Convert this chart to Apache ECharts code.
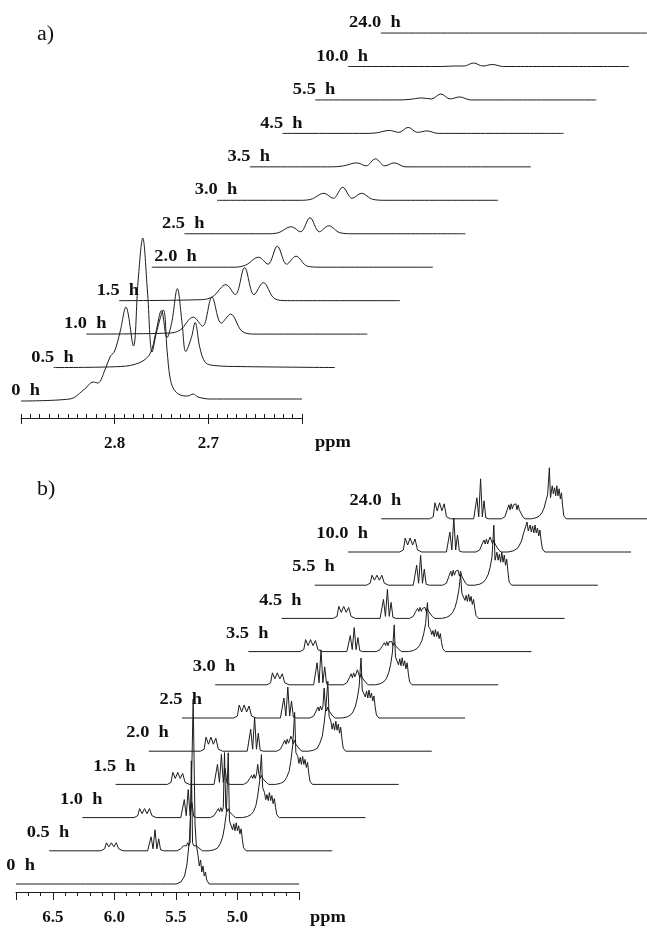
<!DOCTYPE html>
<html><head><meta charset="utf-8">
<script src="https://cdn.jsdelivr.net/npm/echarts@6/dist/echarts.min.js"></script>
<style>html,body{margin:0;padding:0;background:#fff}#c{width:647px;height:929px}</style>
</head><body><div id="c"></div>
<script>
// ================= DATA =================
const timeLabels = ['0 h','0.5 h','1.0 h','1.5 h','2.0 h','2.5 h','3.0 h','3.5 h','4.5 h','5.5 h','10.0 h','24.0 h'];

// ---- Panel a) 2.60 - 2.90 ppm ----
const ppmRangeA = [2.6, 2.9];
const tickLabelsA = ['2.8', '2.7'];
// individual traces for 0 h and 0.5 h  ([ppm, intensity])
const specA_0h = [[2.900,0],[2.848,2],[2.832,12],[2.823,19],[2.818,18],[2.810,32],[2.805,44],[2.800,50],[2.794,70],[2.788,94],[2.780,55],[2.775,120],[2.770,163],[2.765,110],[2.760,49],[2.755,70],[2.748,91],[2.744,50],[2.741,24],[2.737,12],[2.730,6],[2.722,5],[2.716,7],[2.711,4],[2.698,2],[2.600,2]];
const specA_05h = [[2.900,0],[2.829,1],[2.808,5],[2.797,14],[2.791,35],[2.785,57],[2.779,30],[2.774,45],[2.768,79],[2.763,45],[2.759,16],[2.753,30],[2.749,45],[2.744,20],[2.738,5],[2.728,2],[2.701,1],[2.600,0]];
// triplet traces share these ppm positions
const ppmA = [2.900, 2.812, 2.800, 2.786, 2.776, 2.766, 2.756, 2.746, 2.734, 2.720, 2.600];
const intA_1h  = [0, 1, 4, 17, 8, 37, 11, 20, 3, 0, 0];
const intA_15h = [0, 1, 4, 16, 6, 33, 6, 18, 2, 0, 0];
const intA_2h  = [0, 0, 2, 10, 3, 21, 3, 11, 1, 0, 0];
const intA_25h = [0, 0, 1, 7, 2, 16, 2, 8, 1, 0, 0];
const intA_3h  = [0, 0, 1, 7, 2, 13, 2, 7, 1, 0, 0];
const intA_35h = [0, 0, 1, 4, 1, 8, 1, 4, 0, 0, 0];
const intA_45h = [0, 0, 0.5, 3, 1, 6, 1, 2.5, 0, 0, 0];
const intA_55h = [0, 0, 0.5, 2, 1, 6, 1, 3, 0, 0, 0];
const intA_10h = [0, 0, 0, 0.5, 0.5, 3.5, 0.5, 2, 0, 0, 0];
const intA_24h = [0, 0, 0, 0, 0, 0, 0, 0, 0, 0, 0];

// ---- Panel b) 4.5 - 6.8 ppm ----
const ppmRangeB = [4.5, 6.8];
const tickLabelsB = ['6.5', '6.0', '5.5', '5.0'];
const ppmB = [6.80,6.38,6.35,6.335,6.315,6.295,6.275,6.255,6.235,6.20,
  6.00,5.985,5.972,5.956,5.94,5.925,5.91,5.895,5.87,
  5.76,5.73,5.71,5.695,5.685,5.675,5.665,5.655,5.645,5.635,5.625,5.615,5.605,5.59,5.575,5.555,
  5.50,5.46,5.43,5.41,5.39,5.375,5.36,5.345,5.335,5.32,5.31,5.30,5.29,5.28,5.27,5.26,5.25,5.24,5.23,5.22,5.20,4.50];
const intB_0h  = [0,0,0,0,0,0,0,0,0,0, 0,0,0,0,0,0,0,0,0, 0,0,0,0,0,0,0,0,0,0,0,0,0,0,0,0,
  0,2,8,20,45,90,185,60,40,28,18,24,12,18,8,12,4,2,0,0,0,0];
const intB_05h = [0,0,2,8,4,8,4,8,2,0, 0,1,14,2,21,2,12,1,0, 0,2,5,7,5,8,5,8,90,8,5,7,5,4,2,0,
  0,1,3,7,14,24,38,98,30,28,21,27,20,28,20,25,17,22,11,3,0,0];
const intB_1h  = [0,0,2,9,4,9,4,9,2,0, 0,1,18,2,28,2,15,1,0, 0,2,6,9,6,10,6,10,65,10,6,9,6,5,2,0,
  0,1,3,6,12,22,36,63,30,25,18,23,17,25,17,22,14,19,10,3,0,0];
const intB_15h = [0,0,2,12,6,12,6,11,2,0, 0,1,20,2,30,2,16,1,0, 0,2,6,9,6,10,6,10,20,10,6,9,6,5,2,0,
  0,1,3,7,13,24,40,72,32,28,21,27,20,28,20,25,17,22,11,3,0,0];
const intB_2h  = [0,0,2,14,7,14,7,13,2,0, 0,1,22,2,34,2,18,1,0, 0,2,7,11,7,12,8,11,15,12,7,11,7,6,2,0,
  0,1,3,8,15,28,45,70,35,30,22,28,21,30,21,27,18,24,12,3,0,0];
const intB_25h = [0,0,2,13,6,13,6,12,2,0, 0,1,20,2,31,2,17,1,0, 0,2,7,11,7,12,8,11,30,12,7,11,7,6,2,0,
  0,1,3,6,12,20,32,60,28,28,21,27,20,28,20,25,17,22,11,3,0,0];
const intB_3h  = [0,0,2,12,6,12,6,11,2,0, 0,1,22,2,35,2,18,1,0, 0,2,7,11,7,12,8,11,15,12,7,11,7,6,2,0,
  0,1,3,6,12,20,32,60,28,27,20,26,19,27,19,24,16,22,11,3,0,0];
const intB_35h = [0,0,2,12,6,12,6,11,2,0, 0,1,16,2,24,2,14,1,0, 0,2,6,9,6,10,6,10,12,10,6,9,6,5,2,0,
  0,1,3,6,11,18,28,49,25,22,17,21,15,22,15,20,13,18,9,3,0,0];
const intB_45h = [0,0,2,12,6,12,6,11,2,0, 0,1,19,2,29,2,16,1,0, 0,2,7,10,7,11,7,10,12,11,7,10,7,5,2,0,
  0,1,3,6,11,18,28,44,25,24,18,23,17,24,17,22,14,19,10,3,0,0];
const intB_55h = [0,0,2,10,5,10,5,10,2,0, 0,1,20,2,30,2,16,1,0, 0,2,9,14,9,15,10,14,15,15,9,14,9,8,2,0,
  0,1,3,6,11,18,28,60,25,33,25,31,23,33,23,30,20,26,13,3,0,0];
const intB_10h = [0,0,2,14,7,14,7,13,2,0, 0,1,20,2,34,2,17,1,0, 0,2,8,12,8,13,8,12,15,13,8,12,8,6,2,0,
  0,1,3,6,11,18,24,30,21,27,20,26,19,27,19,24,16,22,11,3,0,0];
const intB_24h = [0,0,2,16,8,16,8,15,2,0, 0,1,21,2,40,2,18,1,0, 0,2,9,14,9,15,10,14,15,15,9,14,9,8,2,0,
  0,1,3,6,11,18,24,51,21,33,25,31,23,33,23,30,20,26,13,3,0,0];

// ================= BUILD =================
const pair = (ppm, ints) => ppm.map((p, i) => [p, ints[i]]);
const tracesA = [specA_0h, specA_05h, pair(ppmA,intA_1h), pair(ppmA,intA_15h), pair(ppmA,intA_2h), pair(ppmA,intA_25h),
  pair(ppmA,intA_3h), pair(ppmA,intA_35h), pair(ppmA,intA_45h), pair(ppmA,intA_55h), pair(ppmA,intA_10h), pair(ppmA,intA_24h)];
const tracesB = [intB_0h,intB_05h,intB_1h,intB_15h,intB_2h,intB_25h,intB_3h,intB_35h,intB_45h,intB_55h,intB_10h,intB_24h].map(a => pair(ppmB, a));

// layout (pixels)
const LA = {x0:21, dx:32.7, base0:401, dy:33.45, width:281, H:180, axisY:418, labelDy:-10, smooth:0.35,
  major:0.1, minor:0.01, range:ppmRangeA, ticks:tickLabelsA, majorLen:6, minorLen:4, majorInside:false, minorInside:true, unitY:443, unitX:315, tagY:35};
const LB = {x0:16, dx:33.2, base0:884, dy:33.2, width:283, H:200, axisY:892, labelDy:-18, smooth:false,
  major:0.5, minor:0.1, range:ppmRangeB, ticks:tickLabelsB, majorLen:8, minorLen:4, majorInside:false, minorInside:false, unitY:918, unitX:310, tagY:490};

const grids = [], xAxes = [], yAxes = [], series = [], graphics = [];
const INK = '#1c1c1c';
const labelFont = 'bold 16px "Liberation Serif"';

function buildPanel(L, traces, tag) {
  // ppm axis
  const g = grids.length;
  grids.push({left: L.x0, width: L.width, top: L.axisY - 10, height: 10});
  yAxes.push({gridIndex: g, type: 'value', show: false, min: 0, max: 1});
  xAxes.push({gridIndex: g, type: 'value', position: 'bottom', min: L.range[0], max: L.range[1], inverse: true, interval: L.minor,
    axisLine: {show: true, lineStyle: {color: INK, width: 1}},
    axisTick: {show: true, inside: L.minorInside, length: L.minorLen, lineStyle: {color: INK, width: 1}},
    axisLabel: {show: false}, splitLine: {show: false}});
  xAxes.push({gridIndex: g, type: 'value', position: 'bottom', min: L.range[0], max: L.range[1], inverse: true, interval: L.major,
    axisLine: {show: false},
    axisTick: {show: true, inside: L.majorInside, length: L.majorLen, lineStyle: {color: INK, width: 1}},
    axisLabel: {show: true, margin: 17, color: '#111', fontFamily: 'Liberation Serif', fontWeight: 'bold', fontSize: 17,
      formatter: v => { const s = v.toFixed(1); return L.ticks.includes(s) ? s : ''; }},
    splitLine: {show: false}});
  // traces
  traces.forEach((data, k) => {
    const left = L.x0 + L.dx * k, base = L.base0 - L.dy * k;
    const H = Math.min(L.H, Math.floor(base) - 1);
    const gi = grids.length;
    grids.push({left: left, width: L.width, top: base - H, height: H});
    xAxes.push({gridIndex: gi, type: 'value', show: false, min: L.range[0], max: L.range[1], inverse: true});
    yAxes.push({gridIndex: gi, type: 'value', show: false, min: 0, max: H});
    series.push({type: 'line', xAxisIndex: xAxes.length - 1, yAxisIndex: yAxes.length - 1, data: data,
      symbol: 'none', smooth: L.smooth, clip: false, silent: true,
      lineStyle: {color: INK, width: 1}});
    const rightEdge = left + (tag === 'a' && k === 4 ? 45 : (k === 0 ? 19 : 20));
    graphics.push({type: 'text', x: rightEdge, y: base + L.labelDy, scaleX: 1.15, silent: true,
      style: {text: timeLabels[k].replace(' ', '\u2002'), font: labelFont, fill: '#111', textAlign: 'right', textVerticalAlign: 'middle'}});
  });
  graphics.push({type: 'text', x: L.unitX, y: L.unitY, scaleX: 1.15, silent: true,
    style: {text: 'ppm', font: labelFont, fill: '#111', textAlign: 'left', textVerticalAlign: 'middle'}});
  graphics.push({type: 'text', x: 37, y: L.tagY, scaleX: 1.1, silent: true,
    style: {text: tag + ')', font: '20px "Liberation Serif"', fill: '#111', textAlign: 'left', textVerticalAlign: 'middle'}});
}
buildPanel(LA, tracesA, 'a');
buildPanel(LB, tracesB, 'b');

const chart = echarts.init(document.getElementById('c'), null, {renderer: 'canvas', width: 647, height: 929});
chart.setOption({
  animation: false,
  backgroundColor: '#ffffff',
  grid: grids, xAxis: xAxes, yAxis: yAxes, series: series,
  graphic: {elements: graphics}
});
</script></body></html>
